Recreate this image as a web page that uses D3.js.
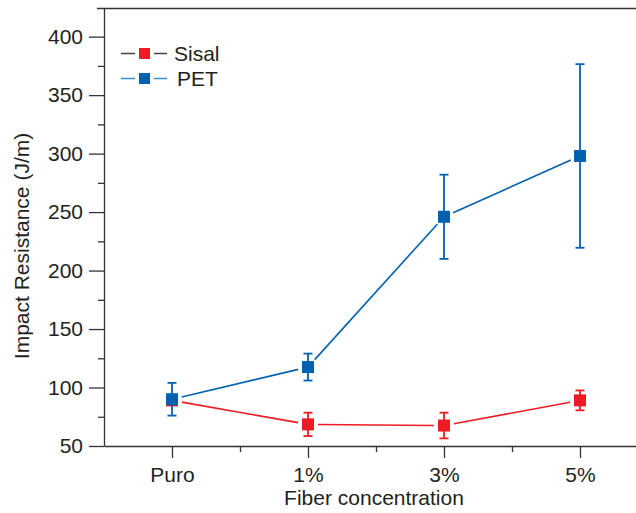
<!DOCTYPE html>
<html>
<head>
<meta charset="utf-8">
<script src="https://cdn.jsdelivr.net/npm/d3@7"></script>
<style>
  body { margin: 0; background: #fff; }
  text { font-family: "Liberation Sans", Arial, sans-serif; fill: #231f20; }
</style>
</head>
<body>
<svg></svg>
<script>
var width = 636, height = 513;

// data
var categories = ["Puro", "1%", "3%", "5%"];
var sisalMean = [89, 68.5, 67.5, 89];
var sisalErr = [0, 10, 11, 8.5];
var petMean = [90, 117.5, 246, 298];
var petErr = [14, 11.5, 36, 78.5];
var yTicks = [50, 100, 150, 200, 250, 300, 350, 400];

var red = "#ed1c24", blue = "#0061b0";

var svg = d3.select("svg").attr("width", width).attr("height", height);

var x = d3.scaleLinear().domain([-0.5, 3.5]).range([104, 648]);
var y = d3.scaleLinear().domain([50, 424.5]).range([446, 8]);

// top frame line
svg.append("line")
  .attr("x1", 97).attr("x2", width).attr("y1", 8.5).attr("y2", 8.5)
  .attr("stroke", "#333").attr("stroke-width", 1.3);

// y axis, major + minor
var yAxis = svg.append("g").attr("transform", "translate(104,0)")
  .call(d3.axisLeft(y).tickValues(yTicks).tickSize(15).tickPadding(6).tickSizeOuter(0));
svg.append("g").attr("transform", "translate(104,0)")
  .call(d3.axisLeft(y).tickValues(d3.range(75, 425, 50)).tickSize(6).tickFormat("").tickSizeOuter(0))
  .select(".domain").remove();

// x axis, major + minor
var xAxis = svg.append("g").attr("transform", "translate(0,446)")
  .call(d3.axisBottom(x).tickValues([0, 1, 2, 3]).tickFormat(function(d) { return categories[d]; })
    .tickSize(12).tickSizeOuter(0));
svg.append("g").attr("transform", "translate(0,446)")
  .call(d3.axisBottom(x).tickValues([0.5, 1.5, 2.5]).tickSize(6).tickFormat("").tickSizeOuter(0))
  .select(".domain").remove();

svg.selectAll(".domain, .tick line").attr("stroke", "#333").attr("stroke-width", 1.3);
svg.selectAll(".tick text").style("font-size", "21px").attr("fill", "#231f20");
xAxis.selectAll(".tick text").attr("y", 36).attr("dy", 0);

svg.append("text")
  .attr("x", 374).attr("y", 505)
  .attr("text-anchor", "middle").style("font-size", "21px")
  .text("Fiber concentration");
svg.append("text")
  .attr("transform", "translate(29,246) rotate(-90)")
  .attr("text-anchor", "middle").style("font-size", "21px")
  .text("Impact Resistance (J/m)");

function drawSeries(means, errs, color, gap) {
  var g = svg.append("g");
  // line segments with small gaps around markers
  for (var i = 0; i < means.length - 1; i++) {
    var x1 = x(i), y1 = y(means[i]), x2 = x(i + 1), y2 = y(means[i + 1]);
    var dx = x2 - x1, dy = y2 - y1, len = Math.sqrt(dx * dx + dy * dy);
    var ux = dx / len, uy = dy / len;
    g.append("line")
      .attr("x1", x1 + ux * gap).attr("y1", y1 + uy * gap)
      .attr("x2", x2 - ux * gap).attr("y2", y2 - uy * gap)
      .attr("stroke", color).attr("stroke-width", 1.6);
  }
  means.forEach(function(m, i) {
    if (errs[i] > 0) {
      var cx = x(i);
      g.append("line").attr("x1", cx).attr("x2", cx)
        .attr("y1", y(m + errs[i])).attr("y2", y(m - errs[i]))
        .attr("stroke", color).attr("stroke-width", 1.8);
      [m + errs[i], m - errs[i]].forEach(function(v) {
        g.append("line").attr("x1", cx - 4.5).attr("x2", cx + 4.5)
          .attr("y1", y(v)).attr("y2", y(v))
          .attr("stroke", color).attr("stroke-width", 1.8);
      });
    }
    g.append("rect")
      .attr("x", x(i) - 6).attr("y", y(m) - 6)
      .attr("width", 12).attr("height", 12)
      .attr("fill", color);
  });
}

drawSeries(sisalMean, sisalErr, red, 10);
drawSeries(petMean, petErr, blue, 10);

// legend
var legend = [
  { name: "Sisal", line: "#444", fill: red, y: 53.5, tx: 174 },
  { name: "PET", line: "#3a8fd9", fill: blue, y: 78.5, tx: 177 }
];
legend.forEach(function(l) {
  svg.append("line").attr("x1", 121).attr("x2", 135).attr("y1", l.y).attr("y2", l.y)
    .attr("stroke", l.line).attr("stroke-width", 1.5);
  svg.append("line").attr("x1", 154).attr("x2", 167).attr("y1", l.y).attr("y2", l.y)
    .attr("stroke", l.line).attr("stroke-width", 1.5);
  svg.append("rect").attr("x", 139).attr("y", l.y - 5.5).attr("width", 11).attr("height", 11)
    .attr("fill", l.fill);
  svg.append("text").attr("x", l.tx).attr("y", l.y + 7.5).style("font-size", "21px").text(l.name);
});
</script>
</body>
</html>
